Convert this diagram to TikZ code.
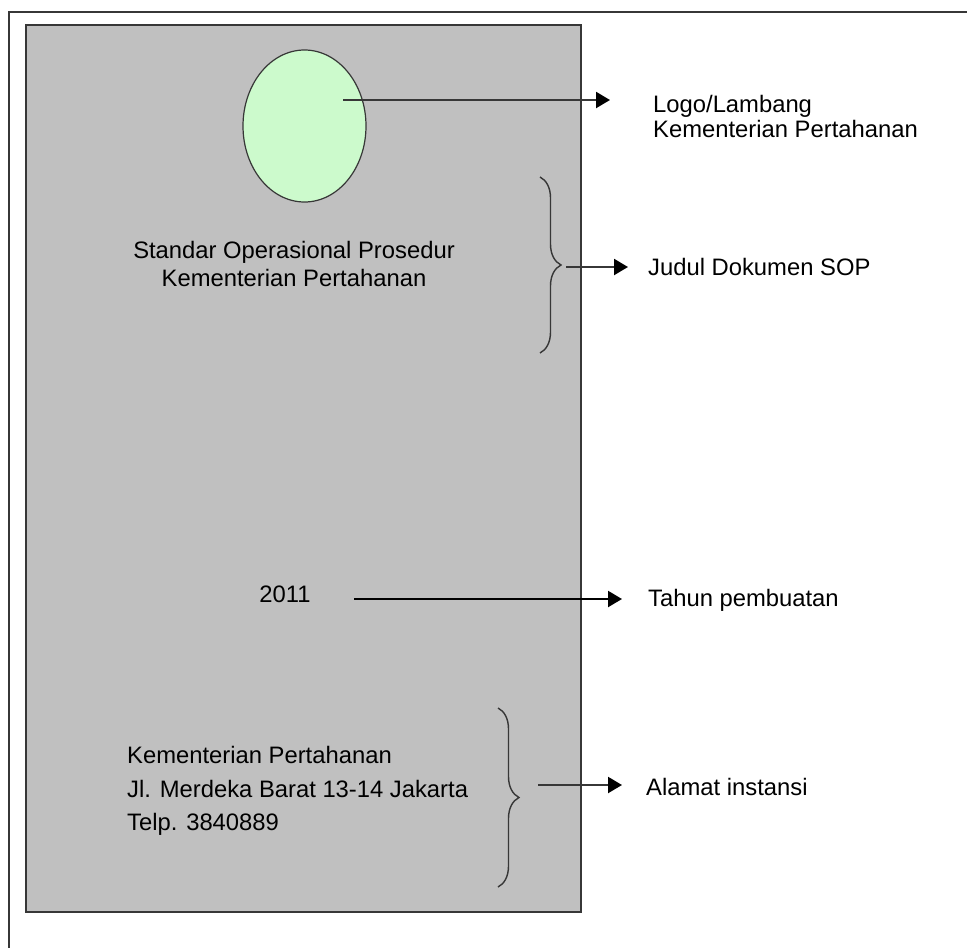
\documentclass[tikz,border=0pt]{standalone}
\usepackage{fontspec}
\setmainfont{Liberation Sans}
\usepackage{tikz}
\usetikzlibrary{shapes.geometric,arrows.meta,decorations.pathreplacing}
\definecolor{sheet}{RGB}{192,192,192}
\definecolor{logogreen}{RGB}{204,250,204}
\definecolor{rim}{RGB}{55,55,55}
\newcommand*{\instansi}{Kementerian Pertahanan}
\newcommand*{\teks}[1][25]{\fontsize{23.8}{#1}\selectfont}

\begin{document}
\begin{tikzpicture}[x=1pt, y=-1pt, font=\teks,
    pointer/.style={draw=rim, line width=2.2pt, -{Triangle[length=14pt, width=16pt, color=black]}},
    curly/.style={draw=rim, line width=1.4pt, decorate, decoration={brace, amplitude=21pt}}]
  \useasboundingbox (0,0) rectangle (967,948);
  \draw[rim, line width=1.6pt] (9,948) -- (9,12) -- (967,12);
  \draw[rim, line width=1.8pt, fill=sheet] (26,25) rectangle (581,912);

  \node (logo) [ellipse, draw=rim, fill=logogreen, line width=1.2pt,
    minimum width=123pt, minimum height=152pt] at (304.5,126) {};
  \node (judul) [align=center, font={\teks[27.5]}] at (294,264) {Standar Operasional Prosedur\\\instansi};
  \node (tahun) at (285,594) {2011};
  \node (alamat) [align=left, anchor=west, inner sep=0pt, font={\teks[33.5]}] at (127,791)
    {\instansi\\Jl. Merdeka Barat 13-14 Jakarta\\Telp. 3840889};

  {\tikzstyle{every node}=[anchor=west, align=left, inner sep=0pt]
    \node (ketlogo) at (653,116) {Logo/Lambang\\\instansi};
    \node (ketjudul) at (648,267) {Judul Dokumen SOP};
    \node (kettahun) at (648,600) {Tahun pembuatan};
    \node (ketalamat) at (646,787) {Alamat instansi};
  }

  \coordinate (logoin) at (343,100);
  \coordinate (logoout) at (610,100);
  \coordinate (judulatas) at (540,177);
  \coordinate (judulbawah) at (540,353);
  \coordinate (judulin) at (566,267);
  \coordinate (judulout) at (628,267);
  \coordinate (tahunin) at (354,599);
  \coordinate (tahunout) at (622,599);
  \coordinate (alamatatas) at (498,708);
  \coordinate (alamatbawah) at (498,887);
  \coordinate (alamatin) at (538,785);
  \coordinate (alamatout) at (622,785);

  \draw[curly] (judulatas) -- (judulbawah);
  \draw[curly] (alamatatas) -- (alamatbawah);

  \draw[pointer] (logoin) -- (logoout);
  \draw[pointer] (judulin) -- (judulout);
  \draw[pointer, draw=black] (tahunin) -- (tahunout);
  \draw[pointer] (alamatin) -- (alamatout);
\end{tikzpicture}
\end{document}
